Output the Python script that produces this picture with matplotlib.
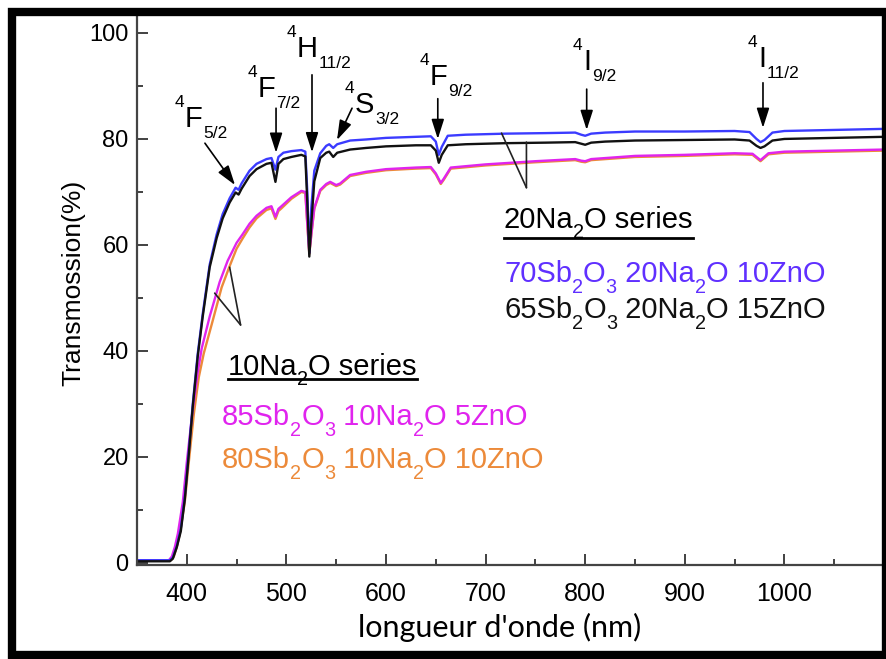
import matplotlib
matplotlib.use("Agg")
import matplotlib.pyplot as plt
from matplotlib.lines import Line2D
from matplotlib.patches import Rectangle
from matplotlib.ticker import MultipleLocator

plt.rcParams['font.family'] = ['Liberation Sans', 'DejaVu Sans']

# ---------------- data ----------------
wl_blue = [350, 383, 386, 390, 394, 398, 402, 406, 411, 416, 423, 430, 436, 443, 449, 452, 455,
           463, 470, 480, 485, 489, 492, 497, 505, 515, 519, 521, 523, 525, 528, 534, 540, 543,
           547, 551, 564, 580, 600, 630, 645, 650, 653, 656, 662, 680, 720, 760, 790, 796, 800,
           806, 820, 850, 900, 950, 965, 972, 976, 980, 988, 1000, 1050, 1100]
t_blue = [0.5, 0.5, 1.0, 3.2, 6.5, 12.5, 21.0, 30.0, 39.5, 47.0, 56.3, 62.0, 65.8, 68.8, 70.8, 70.4, 71.6,
          74.0, 75.3, 76.2, 76.4, 74.2, 76.6, 77.4, 77.7, 77.9, 77.6, 70.0, 58.5, 67.0, 74.0, 77.3, 78.7, 79.0,
          78.3, 79.0, 79.7, 79.9, 80.2, 80.4, 80.5, 79.5, 77.0, 78.5, 80.6, 80.8, 81.0, 81.1, 81.2, 80.8, 80.6,
          81.0, 81.2, 81.4, 81.4, 81.5, 81.3, 80.0, 79.4, 79.8, 81.2, 81.5, 81.7, 81.9]

wl_black = [350, 383, 386, 390, 394, 398, 402, 406, 411, 416, 423, 430, 436, 443, 449, 452, 455,
            463, 470, 480, 485, 489, 492, 497, 505, 515, 519, 521, 523, 525, 528, 534, 540, 543,
            547, 551, 564, 580, 600, 630, 645, 650, 653, 656, 662, 680, 720, 760, 790, 796, 800,
            806, 820, 850, 900, 950, 965, 972, 976, 980, 988, 1000, 1050, 1100]
t_black = [0.3, 0.3, 0.8, 3.0, 6.0, 12.0, 20.5, 29.5, 39.0, 46.5, 55.8, 61.3, 65.0, 68.0, 69.9, 69.5, 70.6,
           73.0, 74.3, 75.3, 75.5, 71.9, 75.3, 76.2, 76.6, 77.0, 76.7, 68.0, 57.8, 64.0, 72.0, 76.4, 77.4, 77.6,
           76.6, 77.4, 78.0, 78.3, 78.6, 78.8, 78.8, 77.8, 75.5, 77.0, 78.8, 79.0, 79.2, 79.3, 79.4, 79.1, 78.9,
           79.3, 79.5, 79.7, 79.8, 79.9, 79.7, 78.7, 78.3, 78.6, 79.7, 80.0, 80.2, 80.4]

wl_magenta = [350, 382, 385, 388, 391, 396, 400, 406, 411, 415, 423, 433, 441, 450, 456, 463, 470,
              480, 485, 489, 492, 495, 505, 515, 519, 521, 523, 525, 528, 534, 540, 544, 550, 554,
              564, 580, 600, 630, 645, 650, 655, 658, 665, 700, 750, 790, 796, 800, 806, 850, 900,
              950, 968, 976, 984, 1000, 1050, 1100]
t_magenta = [0.5, 0.5, 1.2, 3.0, 5.5, 11.5, 19.0, 29.0, 36.0, 40.5, 46.5, 53.0, 57.0, 60.4, 62.0, 64.0, 65.5,
             67.0, 67.3, 65.3, 66.8, 67.3, 69.0, 70.2, 70.0, 64.0, 58.5, 62.0, 67.0, 70.4, 71.5, 71.9, 71.3, 71.6,
             73.2, 73.8, 74.3, 74.6, 74.7, 73.5, 71.7, 72.5, 74.6, 75.2, 75.8, 76.2, 75.9, 75.8, 76.2, 76.8, 77.0,
             77.3, 77.2, 76.0, 77.3, 77.6, 77.8, 78.0]

wl_orange = [350, 384, 387, 390, 393, 398, 402, 407, 412, 417, 425, 435, 443, 450, 456, 463, 470,
             480, 485, 489, 492, 495, 505, 515, 519, 521, 523, 525, 528, 534, 540, 544, 550, 554,
             564, 580, 600, 630, 645, 650, 655, 658, 665, 700, 750, 790, 796, 800, 806, 850, 900,
             950, 968, 976, 984, 1000, 1050, 1100]
t_orange = [0.5, 0.5, 1.2, 3.0, 5.5, 11.5, 19.0, 28.0, 35.0, 39.5, 45.0, 52.0, 56.0, 59.3, 61.2, 63.3, 65.0,
            66.6, 66.9, 64.9, 66.4, 66.9, 68.7, 70.0, 69.8, 63.8, 58.3, 61.8, 66.8, 70.2, 71.3, 71.7, 71.1, 71.4,
            73.0, 73.6, 74.1, 74.4, 74.5, 73.3, 71.5, 72.3, 74.4, 75.0, 75.6, 76.0, 75.7, 75.6, 76.0, 76.6, 76.8,
            77.1, 77.0, 75.8, 77.1, 77.4, 77.6, 77.8]

# "_x" marks a subscript character
series_names = ["70Sb_2O_3 20Na_2O 10ZnO", "65Sb_2O_3 20Na_2O 15ZnO",
                "85Sb_2O_3 10Na_2O 5ZnO", "80Sb_2O_3 10Na_2O 10ZnO"]
group_titles = ["20Na_2O series", "10Na_2O series"]

# transition labels: letter, superscript, subscript, letter position (nm, %), arrow tail, arrow tip
levels = [
    ("F", "4", "5/2", (398.2, 82.3), (418.2, 79.2), (448.4, 71.3)),
    ("F", "4", "7/2", (471.5, 87.9), (489.6, 85.8), (489.6, 77.4)),
    ("H", "4", "11/2", (510.6, 95.5), (525.7, 92.1), (525.7, 77.5)),
    ("S", "4", "3/2", (568.9, 84.9), (565.9, 85.8), (550.8, 79.8)),
    ("F", "4", "9/2", (644.2, 90.2), (652.0, 87.6), (652.0, 80.0)),
    ("I", "4", "9/2", (797.8, 93.0), (801.5, 89.4), (801.5, 81.7)),
    ("I", "4", "11/2", (973.5, 93.6), (978.5, 90.6), (978.5, 82.1)),
]

# pointer lines from the group labels to the curves: (vertex, end1, end2)
pointers = [
    ((741.0, 70.8), (716.0, 81.1), (741.0, 79.4)),
    ((454.0, 44.9), (443.0, 55.8), (428.0, 50.9)),
]

c_blue, c_black, c_mag, c_orange = '#3b3bff', '#111111', '#e024ee', '#ec8a3a'
c_blue_txt = '#6030ff'

# ---------------- figure ----------------
W, H = 887, 659
fig = plt.figure(figsize=(W / 100, H / 100), dpi=100)
ax = fig.add_axes([137 / W, 1 - 565 / H, (884 - 137) / W, (565 - 16) / H])

ax.plot(wl_orange, t_orange, color=c_orange, lw=1.7)
ax.plot(wl_magenta, t_magenta, color=c_mag, lw=1.7)
ax.plot(wl_blue, t_blue, color=c_blue, lw=1.7)
ax.plot(wl_black, t_black, color=c_black, lw=1.7)

ax.set_xlim(350, 1100)
ax.set_ylim(-0.4, 103.2)
ax.xaxis.set_minor_locator(MultipleLocator(50))
ax.yaxis.set_major_locator(MultipleLocator(20))
ax.yaxis.set_minor_locator(MultipleLocator(10))
ax.set_xticks([400, 500, 600, 700, 800, 900, 1000])
ax.tick_params(which='both', direction='in', color='#333333', width=1.3, top=False, right=False)
ax.tick_params(which='major', length=8)
ax.tick_params(which='minor', length=4)
ax.tick_params(axis='y', labelsize=17, pad=6)
ax.tick_params(axis='x', labelsize=18, pad=12)
ax.spines['top'].set_visible(False)
for s in ('left', 'bottom', 'right'):
    ax.spines[s].set_color('#444444')
    ax.spines[s].set_linewidth(1.6)

ax.set_ylabel("Transmossion(%)", fontsize=19, labelpad=3)
ax.yaxis.label.set_y(0.514)
ax.set_xlabel("longueur d'onde (nm)", fontsize=22, family=['Lato', 'Liberation Sans'], labelpad=5)
ax.xaxis.label.set_x(0.486)

# transition labels and arrows
for letter, sup, sub, pos, tail, tip in levels:
    t = ax.text(pos[0], pos[1], letter, fontsize=21, ha='left', va='baseline')
    ax.annotate(sup, xy=(0, pos[1]), xycoords=(t, 'data'), xytext=(-0.5, 14.4),
                textcoords='offset points', ha='right', va='baseline', fontsize=12.5)
    ax.annotate(sub, xy=(1, pos[1]), xycoords=(t, 'data'), xytext=(0.5, -8.0),
                textcoords='offset points', ha='left', va='baseline', fontsize=12.5)
    ax.annotate('', xy=tip, xytext=tail,
                arrowprops=dict(arrowstyle='-|>,head_length=0.75,head_width=0.24',
                                color='black', lw=1.2, mutation_scale=16,
                                shrinkA=0, shrinkB=0))

for vtx, e1, e2 in pointers:
    for e in (e1, e2):
        ax.annotate('', xy=e, xytext=vtx,
                    arrowprops=dict(arrowstyle='-', color='#222222', lw=1.2,
                                    shrinkA=0, shrinkB=0))


def split_pieces(s):
    pieces, buf, i = [], '', 0
    while i < len(s):
        if s[i] == '_':
            if buf:
                pieces.append((buf, False))
                buf = ''
            pieces.append((s[i + 1], True))
            i += 2
        else:
            buf += s[i]
            i += 1
    if buf:
        pieces.append((buf, False))
    return pieces


def chain_text(x, y, s, fs, color):
    pieces = split_pieces(s)
    arts = []
    prev = None
    for txt, is_sub in pieces:
        size = fs * 0.68 if is_sub else fs
        dy = -0.36 * fs if is_sub else 0
        if prev is None:
            prev = ax.text(x, y, txt, fontsize=size, color=color, ha='left', va='baseline')
        else:
            prev = ax.annotate(txt, xy=(1, y), xycoords=(prev, 'data'), xytext=(0, dy),
                               textcoords='offset points', fontsize=size, color=color,
                               ha='left', va='baseline')
        arts.append(prev)
    return arts


FS = 21
title1 = chain_text(718.0, 63.2, group_titles[0], FS, 'black')
chain_text(718.5, 53.0, series_names[0], FS, c_blue_txt)
chain_text(718.5, 46.2, series_names[1], FS, c_black)
title2 = chain_text(441.0, 35.5, group_titles[1], FS, 'black')
chain_text(435.5, 26.0, series_names[2], FS, c_mag)
chain_text(435.5, 17.9, series_names[3], FS, c_orange)

fig.canvas.draw()
r = fig.canvas.get_renderer()
for arts, yline in ((title1, 238), (title2, 379)):
    x0 = arts[0].get_window_extent(r).x0
    x1 = arts[-1].get_window_extent(r).x1
    yf = 1 - yline / H
    fig.add_artist(Line2D([x0 / W, x1 / W], [yf, yf], color='black', lw=2.0))

# outer black frame
fig.add_artist(Rectangle((12 / W, 1 - 655 / H), (886 - 12) / W, (655 - 12) / H,
                         transform=fig.transFigure, fill=False, edgecolor='black', lw=6,
                         clip_on=False))

fig.savefig("out.png", dpi=100)
